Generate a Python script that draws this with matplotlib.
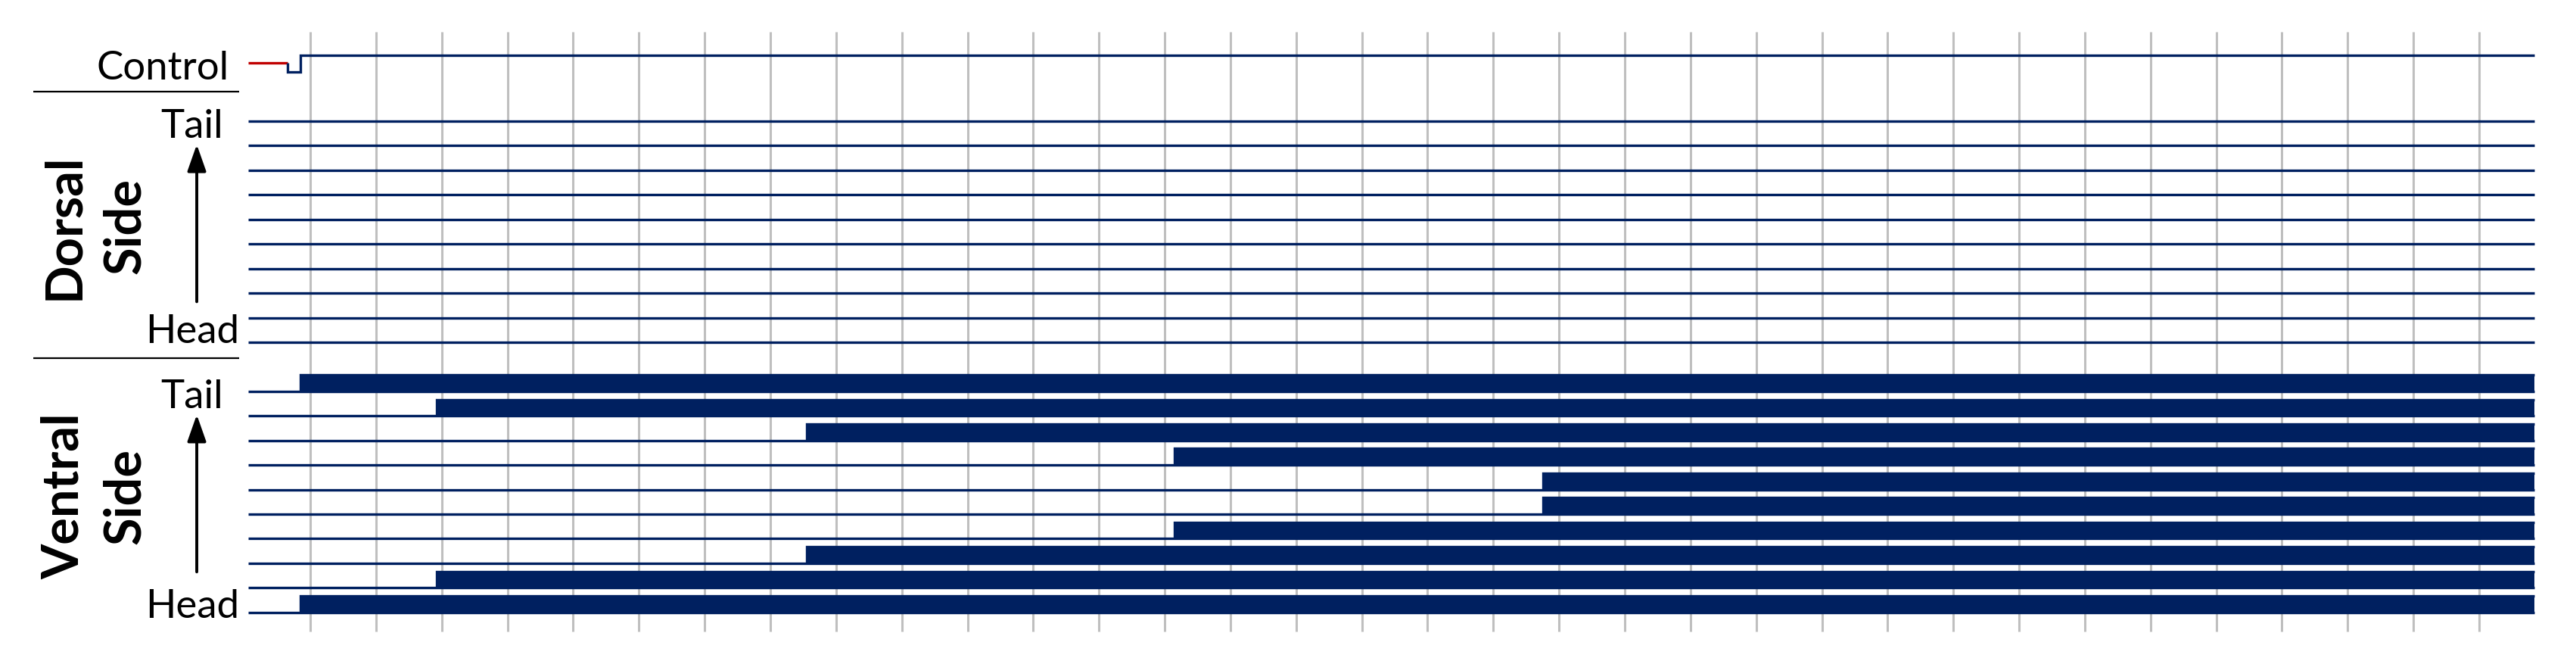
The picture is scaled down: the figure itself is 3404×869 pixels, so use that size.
import numpy as np
import matplotlib.pyplot as plt

# time is measured in grid steps; a vertical gridline sits on every whole step
grid_t = np.arange(1, 35)
t_begin = 0.05
t_end = 34.84

# control channel: undefined (red) until control_red_end, low, then high at control_on
control_red_end = 0.655
control_on = 0.85

# electrode rows, listed from tail to head
n_dorsal = 10  # dorsal electrodes never switch on
ventral_onsets = [0.85, 2.92, 8.55, 14.15, 19.76, 19.76, 14.15, 8.55, 2.92, 0.85]

NAVY = "#002060"
RED = "#C00000"
GRID = "#BFBFBF"
HIGH = 0.67   # height of the "on" level in row units
MID = 0.37    # undefined level
LW = 2.4
FONT = "Lato"

control_row = 3
dorsal_rows = 5 + np.arange(n_dorsal)
ventral_rows = 16 + np.arange(len(ventral_onsets))

fig = plt.figure(figsize=(34.05, 8.7), dpi=100)
ax = fig.add_axes([0, 0, 1, 1])
ax.set_xlim(-3.721, 35.485)
ax.set_ylim(26.856, 0.037)
ax.axis("off")

# vertical time grid
ax.vlines(grid_t, 1.36, 25.77, color=GRID, lw=2.2, zorder=0)

line_kw = dict(color=NAVY, lw=LW, solid_capstyle="butt", solid_joinstyle="miter", zorder=2)

# control channel
ax.plot([t_begin, control_red_end], [control_row - MID] * 2, color=RED, lw=LW,
        solid_capstyle="butt", zorder=2)
ax.plot([control_red_end, control_red_end, control_on, control_on, t_end],
        [control_row - MID, control_row, control_row, control_row - HIGH, control_row - HIGH],
        **line_kw)

# dorsal side: all off
for y in dorsal_rows:
    ax.plot([t_begin, t_end], [y, y], **line_kw)

# ventral side: off until onset, then on (filled)
for y, onset in zip(ventral_rows, ventral_onsets):
    ax.plot([t_begin, t_end], [y, y], **line_kw)
    ax.plot([onset, onset, t_end], [y, y - HIGH, y - HIGH], **line_kw)
    ax.fill_between([onset, t_end], y, y - HIGH, color=NAVY, lw=0, zorder=2)

# labels on the left
ax.text(-0.232, control_row + 0.27, "Control", ha="right", va="baseline",
        fontsize=38, family=FONT)

label_x = -0.796
arrow_x = -0.727
for rows, name, head_off in [(dorsal_rows, "Dorsal\nSide", 0.0),
                             (ventral_rows, "Ventral\nSide", 0.2)]:
    tail, head = rows[0], rows[-1]
    ax.text(label_x, tail + 0.65, "Tail", ha="center", va="baseline",
            fontsize=38, family=FONT)
    ax.text(label_x, head + head_off, "Head", ha="center", va="baseline",
            fontsize=38, family=FONT)
    ax.annotate("", xy=(arrow_x, tail + 0.95), xytext=(arrow_x, head - 1.65),
                arrowprops=dict(arrowstyle="-|>,head_length=1.08,head_width=0.38",
                                mutation_scale=20, lw=2.8, color="black",
                                shrinkA=0, shrinkB=0))
    ax.text(-2.28, (tail + head) / 2 - 0.25, name, rotation=90, ha="center",
            va="center", multialignment="center", fontsize=48, fontweight="bold",
            family=FONT, linespacing=1.38)

# separators between the groups
for y in [3.80, 14.65]:
    ax.plot([-3.214, -0.082], [y, y], color="black", lw=1.6, solid_capstyle="butt")

fig.savefig("out.png", dpi=100)
